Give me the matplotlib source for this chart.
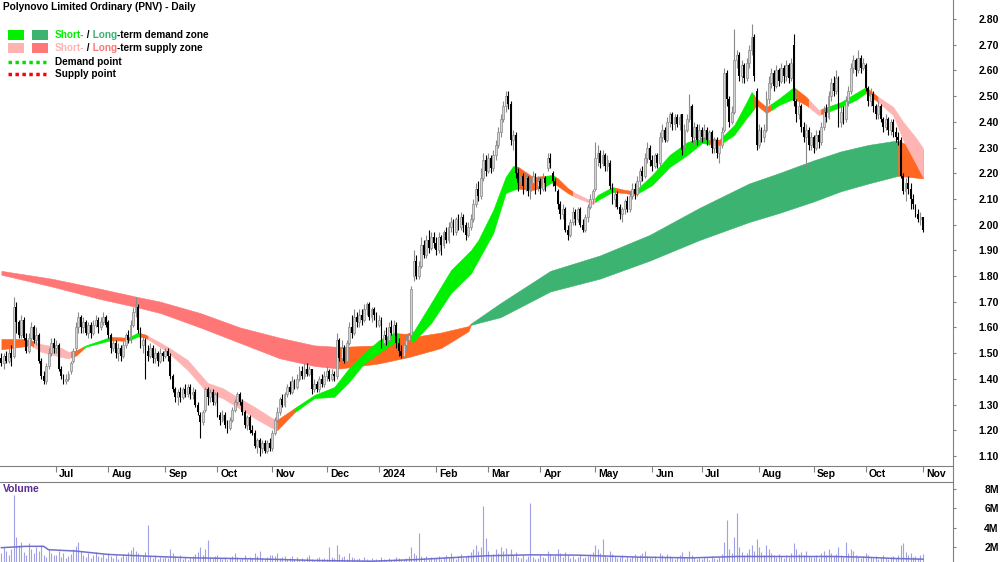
import numpy as np
import pandas as pd
import matplotlib
matplotlib.use("Agg")
import matplotlib.pyplot as plt
from matplotlib.patches import Rectangle
from matplotlib.lines import Line2D

plt.rcParams['font.family'] = ['Liberation Sans', 'DejaVu Sans']

# trading days Jun 2023 .. 1 Nov 2024
dates = pd.bdate_range("2023-06-01", "2024-11-01")

# daily prices, one line per month
opens = [
    1.48, 1.46, 1.49, 1.47, 1.50, 1.49, 1.68, 1.62, 1.57, 1.63, 1.56, 1.51, 1.56, 1.60, 1.55, 1.57, 1.47, 1.41, 1.39, 1.45, 1.50, 1.54,
    1.52, 1.53, 1.44, 1.41, 1.39, 1.40, 1.43, 1.47, 1.52, 1.60, 1.64, 1.60, 1.62, 1.58, 1.61, 1.58, 1.61, 1.63, 1.60, 1.62, 1.64,
    1.62, 1.57, 1.52, 1.54, 1.50, 1.52, 1.49, 1.53, 1.57, 1.55, 1.61, 1.66, 1.68, 1.59, 1.53, 1.55, 1.51, 1.49, 1.52, 1.48, 1.50, 1.47, 1.50,
    1.49, 1.51, 1.49, 1.41, 1.36, 1.33, 1.35, 1.33, 1.36, 1.34, 1.37, 1.34, 1.35, 1.30, 1.26, 1.23, 1.28, 1.36, 1.33, 1.35, 1.31,
    1.34, 1.26, 1.24, 1.26, 1.22, 1.21, 1.24, 1.28, 1.31, 1.34, 1.31, 1.27, 1.22, 1.25, 1.20, 1.19, 1.14, 1.16, 1.13, 1.15, 1.12, 1.15,
    1.13, 1.19, 1.24, 1.27, 1.32, 1.30, 1.34, 1.37, 1.35, 1.39, 1.37, 1.40, 1.43, 1.41, 1.44, 1.42, 1.44, 1.36, 1.38, 1.36, 1.40, 1.38,
    1.41, 1.43, 1.40, 1.42, 1.41, 1.55, 1.48, 1.52, 1.47, 1.54, 1.60, 1.58, 1.64, 1.62, 1.65, 1.63, 1.67, 1.69, 1.64, 1.67, 1.65,
    1.61, 1.63, 1.54, 1.57, 1.55, 1.60, 1.58, 1.61, 1.54, 1.51, 1.49, 1.53, 1.55, 1.57, 1.80, 1.86, 1.80, 1.84, 1.92, 1.88, 1.94, 1.91, 1.95,
    1.93, 1.90, 1.95, 1.92, 1.97, 1.94, 1.99, 2.01, 1.97, 2.02, 1.99, 2.03, 2.00, 1.96, 1.99, 2.02, 2.08, 2.14, 2.11, 2.18, 2.25,
    2.21, 2.26, 2.22, 2.27, 2.31, 2.36, 2.41, 2.46, 2.50, 2.47, 2.33, 2.35, 2.20, 2.16, 2.19, 2.15, 2.18, 2.13, 2.16, 2.19, 2.15,
    2.17, 2.14, 2.18, 2.22, 2.26, 2.20, 2.17, 2.13, 2.08, 2.04, 2.06, 1.98, 1.96, 2.01, 2.05, 2.02, 2.06, 2.00, 1.98, 2.03, 2.07, 2.10,
    2.14, 2.26, 2.28, 2.24, 2.27, 2.23, 2.24, 2.15, 2.10, 2.12, 2.07, 2.04, 2.06, 2.09, 2.06, 2.11, 2.14, 2.12, 2.17, 2.21, 2.19, 2.26, 2.30,
    2.25, 2.23, 2.27, 2.24, 2.34, 2.37, 2.33, 2.40, 2.43, 2.39, 2.42, 2.39, 2.43, 2.30, 2.37, 2.41, 2.46, 2.34, 2.38, 2.33,
    2.37, 2.34, 2.37, 2.33, 2.36, 2.30, 2.33, 2.28, 2.31, 2.37, 2.59, 2.49, 2.40, 2.44, 2.64, 2.66, 2.58, 2.62, 2.57, 2.63, 2.68, 2.73, 2.52,
    2.31, 2.37, 2.34, 2.37, 2.49, 2.55, 2.59, 2.54, 2.60, 2.56, 2.61, 2.58, 2.62, 2.57, 2.70, 2.48, 2.43, 2.46, 2.38, 2.34, 2.37, 2.31,
    2.34, 2.30, 2.35, 2.32, 2.38, 2.44, 2.42, 2.50, 2.55, 2.52, 2.57, 2.40, 2.44, 2.41, 2.48, 2.52, 2.61, 2.64, 2.60, 2.65, 2.61,
    2.62, 2.53, 2.48, 2.51, 2.46, 2.43, 2.46, 2.41, 2.38, 2.41, 2.37, 2.40, 2.36, 2.34, 2.33, 2.19, 2.13, 2.16, 2.14, 2.10, 2.07, 2.04, 2.02,
    2.03,
]
closes = [
    1.46, 1.49, 1.47, 1.50, 1.48, 1.68, 1.62, 1.57, 1.63, 1.56, 1.51, 1.56, 1.60, 1.55, 1.57, 1.47, 1.41, 1.39, 1.45, 1.50, 1.54, 1.52,
    1.53, 1.44, 1.41, 1.39, 1.40, 1.42, 1.46, 1.51, 1.60, 1.64, 1.60, 1.62, 1.58, 1.61, 1.58, 1.61, 1.63, 1.60, 1.62, 1.64, 1.61,
    1.57, 1.52, 1.54, 1.50, 1.52, 1.49, 1.53, 1.57, 1.55, 1.61, 1.66, 1.69, 1.59, 1.53, 1.55, 1.51, 1.49, 1.52, 1.48, 1.50, 1.47, 1.50, 1.49,
    1.51, 1.49, 1.41, 1.36, 1.33, 1.35, 1.33, 1.36, 1.34, 1.37, 1.34, 1.35, 1.30, 1.27, 1.23, 1.27, 1.36, 1.33, 1.35, 1.31, 1.34,
    1.26, 1.24, 1.26, 1.22, 1.21, 1.24, 1.28, 1.31, 1.34, 1.31, 1.27, 1.22, 1.25, 1.20, 1.19, 1.14, 1.16, 1.13, 1.15, 1.12, 1.15, 1.13,
    1.19, 1.24, 1.27, 1.32, 1.30, 1.34, 1.37, 1.35, 1.39, 1.37, 1.40, 1.43, 1.41, 1.44, 1.42, 1.44, 1.36, 1.38, 1.36, 1.40, 1.38, 1.41,
    1.43, 1.40, 1.42, 1.41, 1.55, 1.48, 1.52, 1.47, 1.54, 1.60, 1.58, 1.64, 1.62, 1.65, 1.63, 1.67, 1.69, 1.64, 1.67, 1.65, 1.61,
    1.63, 1.54, 1.57, 1.55, 1.60, 1.58, 1.61, 1.54, 1.51, 1.49, 1.53, 1.55, 1.57, 1.75, 1.86, 1.80, 1.84, 1.92, 1.88, 1.94, 1.91, 1.95, 1.93,
    1.90, 1.95, 1.92, 1.97, 1.94, 1.99, 2.01, 1.97, 2.02, 1.99, 2.03, 2.00, 1.96, 1.99, 2.02, 2.08, 2.14, 2.11, 2.18, 2.25, 2.21,
    2.26, 2.22, 2.27, 2.31, 2.36, 2.41, 2.46, 2.50, 2.47, 2.33, 2.35, 2.20, 2.16, 2.19, 2.15, 2.18, 2.13, 2.16, 2.19, 2.15, 2.17,
    2.14, 2.18, 2.16, 2.26, 2.24, 2.17, 2.15, 2.08, 2.04, 2.06, 1.98, 1.96, 2.01, 2.05, 2.02, 2.06, 2.00, 1.98, 2.03, 2.07, 2.10, 2.13,
    2.26, 2.28, 2.24, 2.27, 2.23, 2.25, 2.15, 2.10, 2.12, 2.07, 2.04, 2.06, 2.09, 2.06, 2.11, 2.14, 2.12, 2.17, 2.21, 2.19, 2.26, 2.30, 2.25,
    2.23, 2.27, 2.24, 2.34, 2.37, 2.33, 2.40, 2.43, 2.39, 2.42, 2.39, 2.42, 2.29, 2.37, 2.41, 2.46, 2.34, 2.38, 2.33, 2.37,
    2.34, 2.37, 2.33, 2.36, 2.30, 2.33, 2.28, 2.31, 2.36, 2.59, 2.49, 2.40, 2.44, 2.64, 2.66, 2.58, 2.62, 2.57, 2.63, 2.68, 2.73, 2.58, 2.31,
    2.37, 2.34, 2.37, 2.49, 2.55, 2.59, 2.54, 2.60, 2.56, 2.61, 2.58, 2.62, 2.57, 2.63, 2.48, 2.43, 2.46, 2.38, 2.34, 2.37, 2.31, 2.34,
    2.30, 2.35, 2.32, 2.38, 2.44, 2.42, 2.50, 2.55, 2.52, 2.57, 2.40, 2.44, 2.41, 2.48, 2.52, 2.61, 2.64, 2.60, 2.65, 2.61, 2.63,
    2.53, 2.48, 2.51, 2.46, 2.43, 2.46, 2.41, 2.38, 2.41, 2.37, 2.40, 2.36, 2.34, 2.33, 2.19, 2.13, 2.16, 2.14, 2.10, 2.08, 2.04, 2.02, 2.03,
    1.98,
]
highs = [
    1.50, 1.50, 1.51, 1.52, 1.53, 1.72, 1.70, 1.63, 1.65, 1.64, 1.58, 1.58, 1.62, 1.61, 1.60, 1.58, 1.48, 1.43, 1.46, 1.52, 1.56, 1.56,
    1.55, 1.54, 1.45, 1.42, 1.42, 1.43, 1.47, 1.52, 1.62, 1.66, 1.65, 1.64, 1.63, 1.62, 1.62, 1.63, 1.65, 1.64, 1.64, 1.66, 1.65,
    1.63, 1.58, 1.56, 1.55, 1.54, 1.53, 1.55, 1.58, 1.59, 1.63, 1.68, 1.72, 1.69, 1.60, 1.57, 1.56, 1.53, 1.54, 1.53, 1.52, 1.51, 1.52, 1.51,
    1.52, 1.52, 1.50, 1.42, 1.37, 1.36, 1.37, 1.37, 1.38, 1.38, 1.38, 1.37, 1.36, 1.31, 1.27, 1.28, 1.37, 1.37, 1.36, 1.36, 1.35,
    1.35, 1.27, 1.28, 1.27, 1.24, 1.25, 1.29, 1.32, 1.35, 1.35, 1.32, 1.28, 1.26, 1.26, 1.22, 1.20, 1.17, 1.17, 1.16, 1.16, 1.16, 1.17,
    1.20, 1.25, 1.29, 1.33, 1.34, 1.35, 1.38, 1.39, 1.41, 1.40, 1.42, 1.45, 1.45, 1.46, 1.46, 1.45, 1.44, 1.40, 1.39, 1.41, 1.42, 1.43,
    1.45, 1.44, 1.44, 1.43, 1.58, 1.56, 1.55, 1.53, 1.55, 1.62, 1.65, 1.67, 1.66, 1.67, 1.67, 1.69, 1.70, 1.70, 1.68, 1.68, 1.66,
    1.65, 1.64, 1.59, 1.60, 1.62, 1.63, 1.63, 1.62, 1.56, 1.53, 1.54, 1.57, 1.58, 1.76, 1.90, 1.88, 1.86, 1.95, 1.94, 1.96, 1.98, 1.97, 1.97,
    1.95, 1.97, 1.96, 1.98, 1.99, 2.01, 2.03, 2.02, 2.03, 2.04, 2.05, 2.04, 2.01, 2.01, 2.04, 2.10, 2.16, 2.17, 2.22, 2.28, 2.27,
    2.28, 2.27, 2.29, 2.33, 2.38, 2.43, 2.48, 2.52, 2.52, 2.48, 2.37, 2.36, 2.22, 2.21, 2.20, 2.20, 2.19, 2.18, 2.21, 2.20, 2.19,
    2.18, 2.20, 2.19, 2.28, 2.28, 2.21, 2.18, 2.14, 2.09, 2.08, 2.07, 2.00, 2.02, 2.07, 2.06, 2.07, 2.07, 2.02, 2.04, 2.08, 2.12, 2.14,
    2.32, 2.31, 2.29, 2.29, 2.28, 2.27, 2.25, 2.16, 2.14, 2.13, 2.08, 2.07, 2.10, 2.11, 2.13, 2.16, 2.16, 2.19, 2.22, 2.23, 2.28, 2.32, 2.31,
    2.27, 2.28, 2.28, 2.36, 2.39, 2.38, 2.42, 2.44, 2.44, 2.43, 2.43, 2.43, 2.43, 2.39, 2.43, 2.51, 2.47, 2.40, 2.39, 2.39,
    2.38, 2.39, 2.38, 2.37, 2.37, 2.34, 2.34, 2.33, 2.38, 2.61, 2.60, 2.50, 2.46, 2.76, 2.68, 2.67, 2.64, 2.63, 2.65, 2.70, 2.78, 2.74, 2.53,
    2.39, 2.38, 2.39, 2.52, 2.58, 2.61, 2.60, 2.62, 2.61, 2.63, 2.62, 2.64, 2.63, 2.65, 2.74, 2.49, 2.48, 2.47, 2.40, 2.39, 2.38, 2.36,
    2.35, 2.37, 2.37, 2.40, 2.46, 2.47, 2.52, 2.57, 2.58, 2.60, 2.58, 2.46, 2.46, 2.50, 2.54, 2.63, 2.66, 2.65, 2.68, 2.66, 2.65,
    2.63, 2.54, 2.53, 2.52, 2.47, 2.48, 2.47, 2.42, 2.43, 2.42, 2.41, 2.41, 2.38, 2.36, 2.34, 2.20, 2.18, 2.19, 2.16, 2.12, 2.08, 2.06, 2.05,
    2.03,
]
lows = [
    1.45, 1.44, 1.46, 1.46, 1.45, 1.48, 1.58, 1.56, 1.56, 1.55, 1.50, 1.50, 1.55, 1.54, 1.53, 1.46, 1.40, 1.38, 1.38, 1.44, 1.49, 1.50,
    1.50, 1.43, 1.40, 1.38, 1.38, 1.39, 1.42, 1.46, 1.51, 1.58, 1.58, 1.58, 1.57, 1.56, 1.56, 1.57, 1.60, 1.58, 1.59, 1.61, 1.60,
    1.56, 1.50, 1.51, 1.48, 1.47, 1.47, 1.48, 1.52, 1.54, 1.54, 1.60, 1.64, 1.58, 1.52, 1.50, 1.40, 1.47, 1.48, 1.46, 1.46, 1.45, 1.46, 1.47,
    1.48, 1.47, 1.40, 1.35, 1.31, 1.30, 1.31, 1.32, 1.33, 1.33, 1.32, 1.32, 1.29, 1.26, 1.17, 1.22, 1.27, 1.30, 1.31, 1.30, 1.30,
    1.25, 1.22, 1.23, 1.21, 1.19, 1.20, 1.23, 1.27, 1.30, 1.30, 1.26, 1.21, 1.20, 1.19, 1.18, 1.13, 1.11, 1.10, 1.11, 1.11, 1.11, 1.12,
    1.12, 1.18, 1.23, 1.26, 1.29, 1.29, 1.33, 1.34, 1.34, 1.36, 1.36, 1.39, 1.40, 1.40, 1.41, 1.41, 1.34, 1.35, 1.35, 1.35, 1.37, 1.37,
    1.39, 1.39, 1.39, 1.39, 1.40, 1.47, 1.47, 1.46, 1.46, 1.53, 1.56, 1.57, 1.60, 1.60, 1.61, 1.62, 1.65, 1.63, 1.62, 1.63, 1.60,
    1.60, 1.52, 1.53, 1.53, 1.54, 1.57, 1.57, 1.52, 1.49, 1.48, 1.48, 1.51, 1.54, 1.56, 1.78, 1.79, 1.79, 1.83, 1.87, 1.87, 1.89, 1.90, 1.91,
    1.88, 1.89, 1.88, 1.91, 1.93, 1.93, 1.97, 1.96, 1.96, 1.98, 1.98, 1.97, 1.94, 1.95, 1.98, 2.01, 2.07, 2.09, 2.10, 2.17, 2.19,
    2.20, 2.20, 2.21, 2.25, 2.30, 2.34, 2.40, 2.44, 2.45, 2.31, 2.29, 2.18, 2.13, 2.14, 2.12, 2.13, 2.11, 2.10, 2.14, 2.12, 2.13,
    2.12, 2.13, 2.13, 2.21, 2.22, 2.15, 2.13, 2.06, 2.02, 2.02, 1.97, 1.94, 1.95, 2.00, 2.00, 2.01, 1.99, 1.97, 1.97, 2.01, 2.06, 2.08,
    2.13, 2.23, 2.22, 2.23, 2.21, 2.21, 2.14, 2.08, 2.07, 2.06, 2.02, 2.01, 2.04, 2.05, 2.05, 2.10, 2.10, 2.11, 2.15, 2.17, 2.18, 2.24, 2.23,
    2.21, 2.22, 2.22, 2.23, 2.32, 2.32, 2.32, 2.38, 2.37, 2.37, 2.38, 2.37, 2.27, 2.29, 2.36, 2.40, 2.32, 2.31, 2.31, 2.32,
    2.32, 2.33, 2.31, 2.31, 2.28, 2.28, 2.26, 2.24, 2.30, 2.36, 2.46, 2.38, 2.39, 2.43, 2.61, 2.56, 2.55, 2.55, 2.56, 2.61, 2.66, 2.56, 2.29,
    2.30, 2.32, 2.32, 2.36, 2.47, 2.53, 2.52, 2.53, 2.54, 2.55, 2.55, 2.56, 2.55, 2.56, 2.46, 2.40, 2.41, 2.36, 2.32, 2.22, 2.29, 2.29,
    2.28, 2.29, 2.30, 2.31, 2.37, 2.40, 2.41, 2.48, 2.50, 2.51, 2.38, 2.38, 2.39, 2.40, 2.46, 2.51, 2.59, 2.58, 2.59, 2.59, 2.60,
    2.52, 2.46, 2.46, 2.44, 2.41, 2.41, 2.40, 2.36, 2.37, 2.35, 2.35, 2.34, 2.32, 2.31, 2.18, 2.12, 2.09, 2.12, 2.06, 2.06, 2.03, 2.01, 2.00,
    1.97,
]
# daily volume, in units of 0.1M shares
volume = [
    14, 20, 16, 12, 18, 74, 30, 22, 25, 15, 12, 24, 18, 14, 20, 16, 22, 12, 10, 18, 14, 12,
    12, 16, 10, 14, 9, 11, 13, 18, 21, 25, 16, 12, 10, 14, 9, 12, 15, 11, 10, 13, 9,
    14, 11, 9, 12, 8, 10, 13, 11, 15, 17, 20, 16, 14, 10, 12, 15, 43, 11, 9, 12, 8, 10, 9,
    10, 9, 18, 14, 11, 9, 12, 8, 10, 7, 9, 11, 13, 15, 20, 12, 18, 27, 10, 9, 11,
    12, 9, 8, 10, 7, 9, 11, 14, 10, 8, 9, 12, 8, 10, 9, 14, 11, 16, 9, 8, 10, 12,
    12, 11, 14, 9, 10, 11, 8, 9, 11, 8, 10, 8, 9, 7, 10, 12, 8, 7, 9, 10, 8, 9,
    8, 20, 10, 9, 22, 13, 10, 11, 8, 14, 10, 9, 8, 9, 7, 10, 8, 7, 9, 7, 8,
    7, 10, 8, 7, 9, 7, 8, 10, 9, 7, 8, 9, 11, 20, 14, 12, 34, 11, 9, 11, 8, 10, 9,
    9, 11, 8, 10, 12, 9, 14, 10, 8, 11, 13, 9, 10, 12, 15, 18, 22, 16, 20, 62, 29,
    16, 11, 13, 18, 14, 20, 16, 19, 13, 18, 12, 15, 10, 9, 12, 8, 11, 66, 10, 8, 9,
    12, 10, 9, 16, 13, 11, 12, 18, 14, 10, 15, 12, 9, 11, 8, 10, 12, 9, 10, 11, 13, 15,
    22, 18, 14, 28, 12, 10, 16, 13, 11, 9, 10, 12, 8, 10, 9, 11, 13, 10, 12, 14, 16, 11, 10,
    9, 11, 8, 14, 12, 10, 13, 11, 9, 8, 10, 12, 15, 10, 9, 16, 12, 10, 8, 9,
    8, 10, 9, 7, 11, 9, 8, 10, 13, 25, 48, 18, 14, 30, 55, 20, 15, 12, 14, 18, 22, 16, 28,
    20, 15, 12, 22, 18, 14, 12, 10, 13, 11, 9, 12, 10, 14, 24, 18, 13, 15, 12, 16, 11, 10,
    10, 12, 9, 14, 16, 12, 18, 14, 11, 13, 20, 12, 10, 25, 14, 18, 16, 12, 10, 9, 11,
    14, 12, 10, 9, 11, 8, 10, 12, 9, 8, 10, 11, 9, 12, 22, 24, 15, 12, 14, 10, 11, 9, 12,
    13,
]
# volume average line (bar index, millions)
vma_idx = [0, 10, 17, 19, 30, 43, 59, 77, 103, 128, 149, 167, 180, 195, 213, 232, 257, 278, 296, 335, 347, 360, 371]
vma_val = [1.93, 2.07, 2.07, 1.72, 1.58, 1.23, 1.05, 0.88, 0.77, 0.60, 0.53, 0.70, 0.88, 1.09, 1.19, 1.16, 0.95, 0.88, 1.02, 1.02, 0.95, 0.81, 0.74]

# short-term zone edges (bar index, upper, lower)
short_idx = [0, 8, 12, 16, 24, 27, 30, 34, 44, 51, 55, 58, 62, 67, 75, 83, 89, 95, 102, 109,
             111, 118, 126, 134, 140, 146, 152, 158, 163, 166, 173, 181, 189, 192, 198, 203, 206, 208, 214, 219,
             222, 224, 228, 231, 238, 240, 246, 251, 255, 262, 269, 276, 282, 289, 295, 300, 302, 304, 308, 313,
             319, 324, 329, 338, 344, 348, 353, 359, 363, 368, 371]
short_top = [1.555, 1.555, 1.55, 1.535, 1.52, 1.505, 1.51, 1.53, 1.563, 1.56, 1.58, 1.572, 1.551, 1.524, 1.473, 1.384, 1.364, 1.329, 1.29, 1.247,
             1.24, 1.286, 1.337, 1.368, 1.442, 1.50, 1.55, 1.578, 1.575, 1.585, 1.695, 1.823, 1.90, 1.94, 2.057, 2.185, 2.228, 2.225, 2.185, 2.19,
             2.193, 2.18, 2.142, 2.123, 2.09, 2.115, 2.146, 2.135, 2.13, 2.193, 2.271, 2.32, 2.34, 2.33, 2.387, 2.477, 2.516, 2.49, 2.457, 2.49,
             2.535, 2.497, 2.446, 2.477, 2.512, 2.535, 2.497, 2.458, 2.40, 2.34, 2.298]
short_bot = [1.515, 1.525, 1.53, 1.505, 1.485, 1.48, 1.49, 1.525, 1.55, 1.548, 1.565, 1.56, 1.535, 1.504, 1.434, 1.345, 1.325, 1.29, 1.247, 1.208,
             1.20, 1.27, 1.325, 1.33, 1.388, 1.46, 1.50, 1.54, 1.545, 1.545, 1.617, 1.734, 1.81, 1.862, 1.967, 2.123, 2.135, 2.14, 2.135, 2.15,
             2.166, 2.15, 2.123, 2.107, 2.08, 2.095, 2.127, 2.123, 2.115, 2.154, 2.224, 2.27, 2.317, 2.31, 2.349, 2.415, 2.438, 2.465, 2.434, 2.465,
             2.49, 2.465, 2.426, 2.458, 2.485, 2.512, 2.477, 2.426, 2.33, 2.24, 2.185]
short_state = [(0, 13, 'x'), (13, 28, 'ss'), (28, 33, 'x'), (33, 44, 'sd'), (44, 51, 'x'), (51, 56, 'sd'),
               (56, 59, 'x'), (59, 111, 'ss'), (111, 118, 'x'), (118, 160, 'sd'), (160, 165, 'x'), (165, 208, 'sd'),
               (208, 219, 'x'), (219, 223, 'sd'), (223, 230, 'x'), (230, 239, 'ss'), (239, 247, 'sd'), (247, 256, 'x'),
               (256, 285, 'sd'), (285, 290, 'x'), (290, 303, 'sd'), (303, 310, 'x'), (310, 320, 'sd'), (320, 325, 'x'),
               (325, 330, 'ss'), (330, 332, 'x'), (332, 348, 'sd'), (348, 353, 'x'), (353, 371, 'ss')]

# long-term zone edges
long_idx = [0, 20, 40, 54, 64, 80, 96, 112, 126, 136, 152, 164, 177, 188, 189, 201, 221, 241, 261, 281,
            301, 313, 327, 338, 349, 359, 361, 371]
long_top = [1.82, 1.79, 1.75, 1.72, 1.70, 1.656, 1.60, 1.56, 1.53, 1.524, 1.53, 1.56, 1.58, 1.605, 1.615, 1.695, 1.82, 1.88, 1.96, 2.065,
            2.16, 2.20, 2.25, 2.285, 2.31, 2.325, 2.325, 2.29]
long_bot = [1.805, 1.76, 1.71, 1.68, 1.656, 1.60, 1.54, 1.48, 1.45, 1.44, 1.46, 1.485, 1.52, 1.585, 1.61, 1.64, 1.74, 1.79, 1.86, 1.94,
            2.01, 2.045, 2.09, 2.13, 2.16, 2.185, 2.19, 2.18]
long_state = [(0, 135, 'ls'), (135, 189, 'x'), (189, 361, 'ld'), (361, 371, 'x')]

zone_colors = {'sd': '#00f000', 'ld': '#3cb371', 'ss': '#ffb4b4', 'ls': '#ff7676', 'x': '#ff6622'}

W, H = 1000, 562
fig = plt.figure(figsize=(W / 100, H / 100), dpi=100)
ax = fig.add_axes([0, (H - 466) / H, 953 / W, 466 / H])
axv = fig.add_axes([0, 0, 953 / W, 80 / H])

x = np.arange(len(dates))
o = np.array(opens); c = np.array(closes); h = np.array(highs); l = np.array(lows)


def draw_zone(idx, top, bot, states, z):
    for s, e, kind in states:
        xs = [s] + [i for i in idx if s < i < e] + [e]
        t = np.interp(xs, idx, top)
        b = np.interp(xs, idx, bot)
        ax.fill_between(xs, b, t, color=zone_colors[kind], lw=0.4, zorder=z)


draw_zone(long_idx, long_top, long_bot, long_state, 1)
draw_zone(short_idx, short_top, short_bot, short_state, 2)

# candles
up = c >= o
body_lo = np.minimum(o, c)
body_h = np.maximum(np.abs(c - o), 0.004)
ax.vlines(x[up], l[up], h[up], color='#8a8a8a', lw=0.8, zorder=3)
ax.vlines(x[~up], l[~up], h[~up], color='black', lw=0.8, zorder=3)
ax.bar(x[up], body_h[up], bottom=body_lo[up], width=0.75, facecolor='#d4d4d4',
       edgecolor='#8a8a8a', lw=0.5, zorder=4)
ax.bar(x[~up], body_h[~up], bottom=body_lo[~up], width=0.75, color='black', lw=0, zorder=4)

ax.set_xlim(-0.56, 383.1)
ax.set_ylim(1.0607, 2.874)
for sp in ['top', 'left', 'right']:
    ax.spines[sp].set_visible(False)
ax.spines['bottom'].set_color('#808080')
ax.spines['bottom'].set_linewidth(0.8)

yt = np.round(np.arange(1.1, 2.801, 0.1), 2)
ax.yaxis.tick_right()
ax.set_yticks(yt)
ax.set_yticklabels([f"{v:.2f}" for v in yt], fontsize=7.5, fontweight='bold')
ax.tick_params(axis='y', direction='out', length=2.5, width=0.8, color='#808080', pad=16)

# month ticks at the first trading day of each month
months = dates.to_period('M')
month_start = [i for i in range(1, len(dates)) if months[i] != months[i - 1]]
ax.set_xticks(month_start)
ax.set_xticklabels([])
ax.tick_params(axis='x', direction='out', length=4, width=0.8, color='#808080')
for i in month_start:
    d = dates[i]
    lab = str(d.year) if d.month == 1 else d.strftime('%b')
    ax.text(i + 1.3, -0.018, lab, transform=ax.get_xaxis_transform(), ha='left', va='center',
            fontsize=7.5, fontweight='bold')

# volume panel
vol = np.array(volume) / 10.0
axv.vlines(x, 0, vol, color='#a0a0e6', lw=0.8)
axv.plot(vma_idx, vma_val, color='#7070cc', lw=1.1)
axv.set_xlim(-0.56, 383.1)
axv.set_ylim(0.45, 8.72)
for sp in ['left', 'bottom', 'right']:
    axv.spines[sp].set_visible(False)
axv.spines['top'].set_color('#808080')
axv.spines['top'].set_linewidth(0.8)
axv.set_xticks([])
axv.yaxis.tick_right()
axv.set_yticks([2, 4, 6, 8])
axv.set_yticklabels(['2M', '4M', '6M', '8M'], fontsize=7.5, fontweight='bold')
axv.tick_params(axis='y', direction='out', length=2.5, width=0.8, color='#808080', pad=20)

fig.add_artist(Line2D([953 / W, 953 / W], [0, 1], color='#808080', lw=0.8))
fig.text(3 / W, 1 - 489 / H, 'Volume', color='#5b2c91', fontsize=7.5, fontweight='bold', va='center')

# title and legend
fig.text(3 / W, 1 - 7 / H, 'Polynovo Limited Ordinary (PNV) - Daily', fontsize=7.3,
         fontweight='bold', va='center')

renderer = fig.canvas.get_renderer()


def rich_text(x_px, y_px, pieces):
    for s, col in pieces:
        t = fig.text(x_px / W, 1 - y_px / H, s, color=col, fontsize=7.2, fontweight='bold',
                     va='center', ha='left')
        x_px += t.get_window_extent(renderer).width


def box(x_px, y_px, col):
    fig.add_artist(Rectangle((x_px / W, 1 - (y_px + 5) / H), 16 / W, 10 / H,
                             transform=fig.transFigure, color=col, lw=0))


box(8, 35, zone_colors['sd']); box(32, 35, zone_colors['ld'])
box(8, 48, zone_colors['ss']); box(32, 48, zone_colors['ls'])
rich_text(55, 35, [('Short-', zone_colors['sd']), (' /', 'black'), (' Long', zone_colors['ld']),
                   ('-term demand zone', 'black')])
rich_text(55, 48, [('Short-', zone_colors['ss']), (' /', 'black'), (' Long', zone_colors['ls']),
                   ('-term supply zone', 'black')])
fig.add_artist(Line2D([8 / W, 46 / W], [1 - 62 / H] * 2, color='#00e000', lw=2.5, ls=(0, (1, 1))))
fig.add_artist(Line2D([8 / W, 46 / W], [1 - 74 / H] * 2, color='#ff0000', lw=2.5, ls=(0, (1, 1))))
fig.text(55 / W, 1 - 62 / H, 'Demand point', fontsize=7.2, fontweight='bold', va='center')
fig.text(55 / W, 1 - 74 / H, 'Supply point', fontsize=7.2, fontweight='bold', va='center')

fig.savefig('out.png', dpi=100)
